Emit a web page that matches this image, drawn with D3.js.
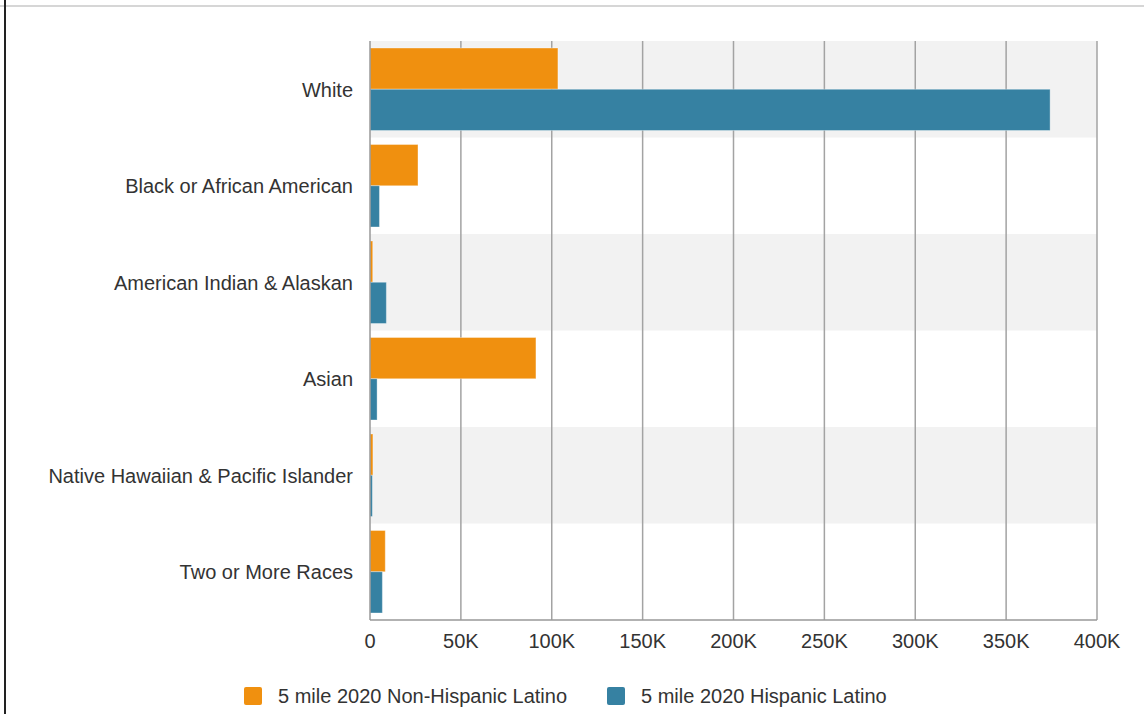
<!DOCTYPE html>
<html>
<head>
<meta charset="utf-8">
<script src="https://d3js.org/d3.v7.min.js"></script>
<style>
  body { margin: 0; background: #fff; }
  svg { display: block; font-family: "Liberation Sans", Arial, sans-serif; }
</style>
</head>
<body>
<svg id="chart" width="1144" height="714"></svg>
<script>
// chart data
const categories = ["White", "Black or African American", "American Indian & Alaskan", "Asian", "Native Hawaiian & Pacific Islander", "Two or More Races"];
const seriesNames = ["5 mile 2020 Non-Hispanic Latino", "5 mile 2020 Hispanic Latino"];
const nonHispanic = [103400, 26400, 1500, 91300, 1600, 8400];
const hispanic = [374200, 5200, 9000, 3900, 1300, 6800];
const tickValues = [0, 50000, 100000, 150000, 200000, 250000, 300000, 350000, 400000];
const colors = ["#f0900f", "#3681a2"];

const svg = d3.select("#chart");
const margin = { left: 370, right: 47, top: 41, bottom: 94 };
const W = 1144, H = 714;

// frame lines
svg.append("line").attr("x1", 0).attr("x2", W).attr("y1", 6).attr("y2", 6)
  .attr("stroke", "#d6d6d6").attr("stroke-width", 2);
svg.append("line").attr("x1", 5).attr("x2", 5).attr("y1", 0).attr("y2", H)
  .attr("stroke", "#222").attr("stroke-width", 2);

const x = d3.scaleLinear().domain([0, 400000]).range([margin.left, W - margin.right]);
const y = d3.scaleBand().domain(categories).range([margin.top, H - margin.bottom]);
const inner = d3.scaleBand().domain([0, 1]).range([0, y.bandwidth()]).paddingOuter(0.17);

// alternating bands
svg.append("g").selectAll("rect")
  .data(categories.filter((d, i) => i % 2 === 0))
  .join("rect")
  .attr("x", x(0)).attr("width", x(400000) - x(0))
  .attr("y", d => y(d)).attr("height", y.bandwidth())
  .attr("fill", "#f2f2f2");

// gridlines
svg.append("g").selectAll("line")
  .data(tickValues.slice(1))
  .join("line")
  .attr("x1", d => x(d)).attr("x2", d => x(d))
  .attr("y1", margin.top).attr("y2", H - margin.bottom)
  .attr("stroke", "#a3a3a3").attr("stroke-width", 1.5);

// bars
const rows = categories.map((c, i) => ({ c, vals: [nonHispanic[i], hispanic[i]] }));
svg.append("g").selectAll("g")
  .data(rows)
  .join("g")
  .attr("transform", d => `translate(0,${y(d.c)})`)
  .selectAll("rect")
  .data(d => d.vals.map((v, k) => ({ v, k })))
  .join("rect")
  .attr("x", x(0))
  .attr("y", d => inner(d.k))
  .attr("width", d => x(d.v) - x(0))
  .attr("height", inner.bandwidth())
  .attr("fill", d => colors[d.k])
  .attr("stroke", "#fff").attr("stroke-opacity", 0.35).attr("stroke-width", 1);

// axes lines
svg.append("line").attr("x1", x(0)).attr("x2", x(0))
  .attr("y1", margin.top).attr("y2", H - margin.bottom)
  .attr("stroke", "#999").attr("stroke-width", 1.5);
svg.append("line").attr("x1", x(0)).attr("x2", x(400000))
  .attr("y1", H - margin.bottom).attr("y2", H - margin.bottom)
  .attr("stroke", "#999").attr("stroke-width", 1.5);

// x tick labels
const fmt = d => d === 0 ? "0" : (d / 1000) + "K";
svg.append("g").selectAll("text")
  .data(tickValues)
  .join("text")
  .attr("x", d => x(d)).attr("y", 648)
  .attr("text-anchor", "middle")
  .attr("font-size", 20).attr("fill", "#333")
  .text(fmt);

// category labels
svg.append("g").selectAll("text")
  .data(categories)
  .join("text")
  .attr("x", 353).attr("y", d => y(d) + y.bandwidth() / 2 + 7.5)
  .attr("text-anchor", "end")
  .attr("font-size", 20).attr("fill", "#333")
  .text(d => d);

// legend
const legendX = [244, 607];
const lg = svg.append("g").selectAll("g")
  .data(seriesNames)
  .join("g")
  .attr("transform", (d, i) => `translate(${legendX[i]},687)`);
lg.append("rect").attr("width", 18).attr("height", 18).attr("rx", 2)
  .attr("fill", (d, i) => colors[i]);
lg.append("text").attr("x", 34).attr("y", 16)
  .attr("font-size", 20).attr("fill", "#333")
  .text(d => d);
</script>
</body>
</html>
